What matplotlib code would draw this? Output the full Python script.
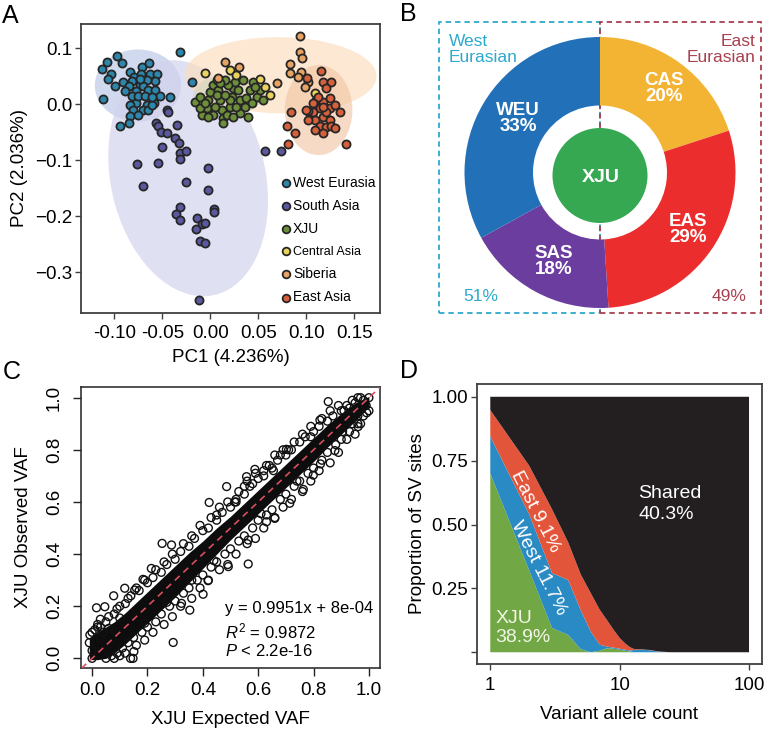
import matplotlib
matplotlib.use("Agg")
import matplotlib.pyplot as plt
from matplotlib.patches import Ellipse, Circle, Rectangle
import numpy as np

plt.rcParams['font.family'] = ['Liberation Sans', 'DejaVu Sans']
plt.rcParams['mathtext.fontset'] = 'custom'
plt.rcParams['mathtext.rm'] = 'Liberation Sans'
plt.rcParams['mathtext.it'] = 'Liberation Sans:italic'

W, H = 768, 731
fig = plt.figure(figsize=(W / 100, H / 100), dpi=100)

def axes_px(l, t, r, b):
    return fig.add_axes([l / W, 1 - b / H, (r - l) / W, (b - t) / H])

# ---------------- Panel A data (PC1, PC2) ----------------
west_eurasia = [(-0.097, 0.086), (-0.092, 0.073), (-0.108, 0.076), (-0.113, 0.0625), (-0.103, 0.055),
                (-0.107, 0.045), (-0.099, 0.032), (-0.112, 0.009), (-0.091, 0.039), (-0.084, 0.057),
                (-0.079, 0.049), (-0.071, 0.067), (-0.064, 0.073), (-0.072, 0.055), (-0.063, 0.055),
                (-0.055, 0.055), (-0.058, 0.041), (-0.066, 0.044), (-0.073, 0.035), (-0.082, 0.041),
                (-0.085, 0.032), (-0.077, 0.023), (-0.070, 0.032), (-0.065, 0.026), (-0.058, 0.026),
                (-0.052, 0.014), (-0.042, 0.0125), (-0.059, 0.002), (-0.066, -0.001), (-0.070, -0.010),
                (-0.077, 0.002), (-0.082, 0.014), (-0.084, -0.001), (-0.080, -0.010), (-0.084, -0.021),
                (-0.075, -0.019), (-0.065, -0.010), (-0.061, -0.001), (-0.085, -0.034), (-0.094, -0.039),
                (-0.031, 0.093), (-0.019, 0.0405), (-0.075, 0.014), (-0.068, 0.014), (-0.061, 0.0125),
                (-0.089, 0.023), (-0.073, 0.046)]
south_asia = [(-0.0455, -0.010), (-0.044, -0.013), (-0.057, -0.033), (-0.054, -0.039), (-0.051, -0.049),
              (-0.0455, -0.052), (-0.035, -0.037), (-0.037, -0.061), (-0.033, -0.0685), (-0.050, -0.0756),
              (-0.032, -0.0875), (-0.025, -0.083), (-0.032, -0.098), (-0.076, -0.107), (-0.054, -0.104),
              (-0.002, -0.114), (-0.0705, -0.146), (-0.025, -0.138), (-0.002, -0.153), (-0.032, -0.184),
              (-0.036, -0.196), (-0.032, -0.2065), (-0.014, -0.2036), (-0.009, -0.2137), (-0.0056, -0.2125),
              (-0.015, -0.2232), (0.004, -0.1875), (0.004, -0.1917), (-0.011, -0.2435), (-0.0056, -0.247),
              (-0.012, -0.350), (0.0576, -0.0827), (0.0743, -0.0827)]
xju = [(-0.016, 0.0048), (-0.0108, 0.0137), (-0.009, -0.019), (-0.0038, -0.0071), (-0.0021, 0.0077),
       (-0.0003, 0.0226), (0.0031, 0.0345), (0.0066, 0.0435), (0.0083, 0.0256), (0.0101, 0.0077),
       (0.0118, -0.0101), (0.0135, -0.025), (0.0135, -0.0339), (0.017, -0.019), (0.0205, -0.0042),
       (0.0222, 0.0137), (0.024, 0.0286), (0.0257, 0.0405), (0.0292, 0.0256), (0.0309, 0.0077),
       (0.0309, -0.0161), (0.0361, -0.0042), (0.0396, -0.022), (0.0378, 0.0107), (0.0413, 0.0256),
       (0.0448, 0.0405), (0.0483, 0.0137), (0.0517, 0.0256), (0.0431, 0.0018), (0.0274, -0.0042),
       (0.0188, 0.0345), (0.0153, 0.0435), (0.0049, -0.0042), (0.0031, -0.019), (-0.0021, -0.022),
       (-0.0108, -0.0071), (-0.0056, 0.0018), (0.0101, 0.0375), (0.024, -0.022), (0.0205, 0.0077),
       (0.0344, 0.0435), (0.0465, 0.0315), (0.0552, 0.0077), (0.0066, 0.0167), (0.0153, 0.0167)]
central_asia = [(-0.0056, 0.0554), (0.0205, 0.0613), (0.0274, 0.0524), (0.0517, 0.0446),
                (0.0569, 0.0304), (0.0622, 0.0167), (0.109, 0.0208)]
siberia = [(0.0153, 0.0762), (0.0302, 0.0673), (0.0698, 0.0375), (0.0083, 0.0464), (0.0934, 0.122),
           (0.0941, 0.094), (0.0962, 0.0821), (0.083, 0.0714), (0.083, 0.0554), (0.0951, 0.0583),
           (0.1021, 0.0405), (0.0986, 0.0315), (0.0917, 0.0494)]
east_asia = [(0.1177, 0.0405), (0.1264, 0.0405), (0.1212, 0.0286), (0.1108, 0.0077), (0.1177, 0.0048),
             (0.1247, 0.0107), (0.1142, -0.0071), (0.1073, -0.0131), (0.1021, -0.0113), (0.0847, -0.0131),
             (0.1247, -0.0071), (0.109, -0.028), (0.1177, -0.022), (0.1247, -0.028), (0.1351, -0.0131),
             (0.1142, -0.0387), (0.1212, -0.0399), (0.1264, -0.0387), (0.1021, -0.028), (0.1009, 0.0464),
             (0.1125, 0.0137), (0.1212, -0.0131), (0.1073, 0.0018), (0.142, -0.0708), (0.0813, -0.0708),
             (0.0882, -0.0518), (0.0802, -0.0387), (0.0997, -0.0101), (0.109, -0.0458), (0.1177, -0.0518),
             (0.1299, -0.0417), (0.116, 0.0595), (0.130, -0.002), (0.118, -0.005)]

pca_groups = ['West Eurasia', 'South Asia', 'XJU', 'Central Asia', 'Siberia', 'East Asia']
pca_points = [west_eurasia, south_asia, xju, central_asia, siberia, east_asia]
pca_colors = ['#2E86AB', '#5A589E', '#6E8F3A', '#E9D35E', '#E7A363', '#D5603B']

# ellipses
ell_cx = [-0.0753, -0.023, 0.0734, 0.0188, 0.113]
ell_cy = [0.0335, -0.132, 0.0518, 0.0167, -0.0102]
ell_w = [0.090, 0.163, 0.200, 0.073, 0.0705]
ell_h = [0.129, 0.423, 0.136, 0.0714, 0.161]
ell_ang = [0, 5, -2, 0, 0]
ell_col = ['#B9C6E6', '#D3D3EE', '#FBDDBC', '#D3D6B8', '#F4C7A6']
ell_alpha = [0.65, 0.7, 0.65, 0.6, 0.65]

# ---------------- Panel B data ----------------
donut_labels = ['CAS\n20%', 'EAS\n29%', 'SAS\n18%', 'WEU\n33%']
donut_values = [20, 29, 18, 33]
donut_colors = ['#F3B433', '#EC2D2D', '#6B3D9E', '#2271B8']

# ---------------- Panel C data ----------------
band_x = [-0.01, 0.02, 0.05, 0.08, 0.12, 0.16, 0.2, 0.25, 0.3, 0.35, 0.4, 0.45, 0.5, 0.55, 0.6, 0.65,
          0.7, 0.75, 0.8, 0.85, 0.9, 0.95, 1.0]
band_lo = [-0.005, -0.005, 0.0, 0.02, 0.055, 0.095, 0.135, 0.185, 0.235, 0.29, 0.345, 0.4, 0.455, 0.505,
           0.555, 0.605, 0.655, 0.705, 0.755, 0.81, 0.86, 0.91, 0.965]
band_hi = [0.08, 0.1, 0.12, 0.14, 0.175, 0.215, 0.255, 0.305, 0.355, 0.405, 0.45, 0.5, 0.545, 0.595,
           0.645, 0.695, 0.745, 0.795, 0.845, 0.895, 0.94, 0.98, 1.005]
vaf_expected = [0.992, 0.853, 0.961, 0.823, 0.877, 0.825, 0.799, 0.702, 0.588, 0.558, 0.486, 0.423,
                0.714, 0.763, 0.66, 0.63, 0.564, 0.564, 0.492, 0.419, 0.253, 0.287, 0.214, 0.184,
                0.154, 0.118, 0.078, 0.016, 0.046, 0.353, 0.323, 0.401, 0.293, 0.148, 0.139, 0.151,
                -0.008,
                0.02, 0.05, 0.08, 0.1, 0.12, 0.14, 0.17, 0.2, 0.22, 0.25, 0.27, 0.3, 0.32, 0.35, 0.37,
                0.4, 0.42, 0.45, 0.47, 0.5, 0.52, 0.55, 0.57, 0.6, 0.62, 0.65, 0.67, 0.7, 0.72, 0.75,
                0.77, 0.8, 0.82, 0.85, 0.87, 0.9, 0.92, 0.94,
                0.05, 0.07, 0.09, 0.11, 0.13, 0.15, 0.18, 0.2, 0.23, 0.25, 0.28, 0.3, 0.33, 0.35, 0.38,
                0.4, 0.43, 0.45, 0.48, 0.5, 0.53, 0.55, 0.58, 0.6, 0.63, 0.65, 0.68, 0.7, 0.73, 0.75,
                0.78, 0.8, 0.83, 0.85, 0.88, 0.9, 0.93, 0.96, 0.98,
                0.515, 0.61, 0.655, 0.74, 0.79, 0.905, 0.94, 0.36, 0.44, 0.27, 0.19, 0.06, 0.03, 0.1,
                0.03, 0.06, 0.09, 0.13, 0.16, 0.19, 0.23, 0.26, 0.29, 0.33, 0.36, 0.39, 0.43, 0.46,
                0.49, 0.53, 0.56, 0.59, 0.63, 0.66, 0.69, 0.73, 0.76, 0.79, 0.83, 0.86, 0.89, 0.96,
                0.98, 1.0,
                0.08, 0.1, 0.12, 0.16, 0.19, 0.22, 0.26, 0.29, 0.32, 0.36, 0.39, 0.42, 0.46, 0.49,
                0.52, 0.56, 0.59, 0.62, 0.66, 0.69, 0.72, 0.76, 0.79, 0.82, 0.86, 0.89, 0.92, 0.95,
                0.97, 1.0,
                0.0, 0.01, 0.0, -0.01, 0.03, 0.0, 0.02, 0.04, 0.97, 0.99, 0.95, 0.93, 0.91, 0.96,
                0.45, 0.55, 0.62, 0.68, 0.58, 0.52, 0.71, 0.64]
vaf_observed = [0.942, 0.985, 0.889, 0.914, 0.797, 0.746, 0.703, 0.802, 0.725, 0.697, 0.659, 0.598,
                0.595, 0.648, 0.537, 0.524, 0.454, 0.362, 0.352, 0.298, 0.441, 0.435, 0.345, 0.303,
                0.262, 0.269, 0.240, 0.194, 0.198, 0.185, 0.211, 0.246, 0.061, 0.0, 0.0, 0.026,
                0.09,
                0.12, 0.14, 0.17, 0.2, 0.21, 0.24, 0.26, 0.29, 0.31, 0.33, 0.36, 0.38, 0.41, 0.43, 0.46,
                0.49, 0.5, 0.53, 0.56, 0.58, 0.61, 0.63, 0.66, 0.69, 0.7, 0.73, 0.76, 0.78, 0.8, 0.83,
                0.85, 0.87, 0.89, 0.91, 0.93, 0.95, 0.97, 0.99,
                0.0, 0.01, 0.02, 0.04, 0.06, 0.08, 0.1, 0.12, 0.14, 0.17, 0.2, 0.22, 0.25, 0.27, 0.3,
                0.32, 0.35, 0.37, 0.4, 0.42, 0.45, 0.47, 0.5, 0.53, 0.55, 0.57, 0.61, 0.63, 0.66, 0.68,
                0.71, 0.73, 0.76, 0.79, 0.82, 0.84, 0.87, 0.9, 0.93,
                0.6, 0.555, 0.72, 0.68, 0.85, 0.87, 0.9, 0.3, 0.375, 0.215, 0.135, 0.115, 0.075, 0.155,
                0.15, 0.16, 0.19, 0.23, 0.27, 0.3, 0.34, 0.37, 0.4, 0.44, 0.47, 0.51, 0.54, 0.58,
                0.6, 0.64, 0.68, 0.71, 0.74, 0.78, 0.8, 0.83, 0.86, 0.89, 0.92, 0.95, 0.97, 1.0,
                0.99, 1.0,
                -0.0, 0.01, 0.02, 0.05, 0.07, 0.1, 0.13, 0.16, 0.2, 0.23, 0.27, 0.3, 0.34, 0.36,
                0.4, 0.44, 0.46, 0.5, 0.54, 0.58, 0.61, 0.64, 0.68, 0.72, 0.75, 0.79, 0.84, 0.86,
                0.9, 0.95,
                0.0, 0.11, 0.1, 0.06, 0.12, 0.03, 0.13, 0.1, 1.0, 0.97, 0.98, 0.96, 0.95, 0.93,
                0.55, 0.66, 0.72, 0.78, 0.67, 0.6, 0.8, 0.74]

# ---------------- Panel D data ----------------
allele_count = [1, 2, 3, 4, 5, 6, 7, 8, 9, 10, 11, 12, 13, 15, 17, 20, 25, 100]
prop_xju = [0.70, 0.32, 0.095, 0.068, 0.012, 0.0, 0.006, 0.016, 0.014, 0.010, 0.006, 0.003, 0.0, 0.0, 0.0, 0.0, 0.0, 0.0]
prop_west = [0.145, 0.22, 0.215, 0.215, 0.153, 0.08, 0.024, 0.006, 0.004, 0.004, 0.004, 0.004, 0.009, 0.010, 0.008, 0.002, 0.0, 0.0]
prop_east = [0.103, 0.19, 0.25, 0.147, 0.14, 0.15, 0.137, 0.103, 0.069, 0.042, 0.025, 0.013, 0.003, 0.001, 0.001, 0.001, 0.0, 0.0]
prop_shared = [0.052, 0.27, 0.44, 0.57, 0.695, 0.77, 0.833, 0.875, 0.913, 0.944, 0.965, 0.98, 0.988, 0.989, 0.991, 0.997, 1.0, 1.0]
d_colors = ['#71A744', '#2A8AC4', '#E3553A', '#231F20']

FS = 13.5
frame_col = '#404040'

# ================= Panel A =================
axA = axes_px(81, 24, 380, 313)
for cx, cy, w, h, a, c, al in zip(ell_cx, ell_cy, ell_w, ell_h, ell_ang, ell_col, ell_alpha):
    axA.add_patch(Ellipse((cx, cy), w, h, angle=a, facecolor=c, edgecolor='none', alpha=al, zorder=1))
for name, pts, col in zip(pca_groups, pca_points, pca_colors):
    xs = [p[0] for p in pts]
    ys = [p[1] for p in pts]
    axA.scatter(xs, ys, s=34, c=col, edgecolors='#262626', linewidths=1.3, zorder=3, label=name)
axA.set_xlim(-0.1347, 0.177)
axA.set_ylim(-0.3727, 0.1434)
axA.set_xticks([-0.10, -0.05, 0.0, 0.05, 0.10, 0.15])
axA.set_xticklabels(['-0.10', '-0.05', '0.00', '0.05', '0.10', '0.15'])
axA.set_yticks([0.1, 0.0, -0.1, -0.2, -0.3])
axA.set_yticklabels(['0.1', '0.0', '\u22120.1', '\u22120.2', '\u22120.3'])
axA.tick_params(labelsize=FS, length=4, width=1, color=frame_col, pad=2)
axA.tick_params(axis='x', pad=5)
for s in axA.spines.values():
    s.set_color(frame_col)
    s.set_linewidth(1.3)
axA.set_xlabel('PC1 (4.236%)', fontsize=FS, labelpad=5)
axA.set_ylabel('PC2 (2.036%)', fontsize=FS, labelpad=5)
leg = axA.legend(loc='upper left', bbox_to_anchor=(0.672, 0.475), frameon=False, fontsize=10,
                 handlelength=0.6, handletextpad=0.2, labelspacing=0.66, borderpad=0,
                 borderaxespad=0, scatterpoints=1, markerscale=0.95)
for t in leg.get_texts():
    if t.get_text() == 'Central Asia':
        t.set_fontsize(9)

# ================= Panel B =================
cxB, cyB = 600, 172.5
axB = axes_px(430, 10, 770, 320)
axB.axis('off')
box_top, box_bot, box_half = 150.5, -140.5, 161
axB.add_patch(Rectangle((-box_half, box_bot), box_half, box_top - box_bot, fill=False,
                        edgecolor='#2EA9CC', linestyle=(0, (3, 2.2)), linewidth=1.3, zorder=1))
axB.add_patch(Rectangle((0, box_bot), box_half, box_top - box_bot, fill=False,
                        edgecolor='#A8404F', linestyle=(0, (3, 2.2)), linewidth=1.3, zorder=1))
wedges, _ = axB.pie(donut_values, colors=donut_colors, startangle=90, counterclock=False,
                    radius=135.5, center=(0, 0), wedgeprops=dict(width=68.5, edgecolor='none'))
for w in wedges:
    w.set_zorder(2)
axB.set_aspect('auto')
axB.set_xlim(430 - cxB, 770 - cxB)
axB.set_ylim(cyB - 320, cyB - 10)
axB.add_patch(Circle((0, -3), 47.5, facecolor='#36A852', edgecolor='none', zorder=3))
lab_pos = [(64, 84), (88, -57), (-46, -89), (-82, 54)]
for lab, (lx, ly) in zip(donut_labels, lab_pos):
    axB.text(lx, ly, lab, ha='center', va='center', color='white', fontsize=13.5,
             fontweight='bold', linespacing=0.95, zorder=4)
axB.text(1, -5, 'XJU', ha='center', va='center', color='white', fontsize=14, fontweight='bold', zorder=4)
axB.text(-151.5, 123, 'West\nEurasian', ha='left', va='center', color='#2EA9CC', fontsize=12.5,
         linespacing=1.0)
axB.text(155, 123, 'East\nEurasian', ha='right', va='center', color='#A8404F', fontsize=12.5,
         linespacing=1.0)
axB.text(-137, -124, '51%', ha='left', va='center', color='#2EA9CC', fontsize=12.5)
axB.text(146.5, -124, '49%', ha='right', va='center', color='#A8404F', fontsize=12.5)

# ================= Panel C =================
axC = axes_px(81, 387, 380, 668)
axC.fill_between(band_x, band_lo, band_hi, color='#0d0d0d', linewidth=0, zorder=2)
axC.scatter(vaf_expected, vaf_observed, s=32, facecolors='none', edgecolors='#111111',
            linewidths=1.0, zorder=3)
axC.plot([-0.1, 1.1], [-0.1, 1.1], color='#D8505E', linestyle=(0, (4, 3)), linewidth=1.2, zorder=4)
axC.set_xlim(-0.04, 1.04)
axC.set_ylim(-0.037, 1.041)
ticksC = [0.0, 0.2, 0.4, 0.6, 0.8, 1.0]
axC.set_xticks(ticksC)
axC.set_xticklabels(['0.0', '0.2', '0.4', '0.6', '0.8', '1.0'])
axC.set_yticks(ticksC)
axC.set_yticklabels(['0.0', '0.2', '0.4', '0.6', '0.8', '1.0'], rotation=90, va='center')
axC.tick_params(labelsize=FS, length=6, width=1, color='#222222', pad=4)
axC.tick_params(axis='y', pad=7)
for s in axC.spines.values():
    s.set_color('#222222')
    s.set_linewidth(1.1)
axC.set_xlabel('XJU Expected VAF', fontsize=FS, labelpad=9)
axC.set_ylabel('XJU Observed VAF', fontsize=FS, labelpad=10)
axC.text(0.48, 0.192, 'y = 0.9951x + 8e-04', fontsize=12, va='center', ha='left')
axC.text(0.48, 0.104, r'$\mathit{R}^{2}$ = 0.9872', fontsize=12, va='center', ha='left')
axC.text(0.48, 0.028, r'$\mathit{P}$ < 2.2e-16', fontsize=12, va='center', ha='left')

# ================= Panel D =================
axD = axes_px(476.7, 384, 761.7, 664)
axD.stackplot(allele_count, prop_xju, prop_west, prop_east, prop_shared, colors=d_colors,
              linewidth=0)
axD.set_xscale('log')
axD.set_xlim(10 ** -0.105, 10 ** 2.098)
axD.set_ylim(-0.046, 1.05)
axD.set_xticks([1, 10, 100])
axD.set_xticklabels(['1', '10', '100'])
axD.minorticks_off()
axD.set_yticks([0, 0.25, 0.5, 0.75, 1.0])
axD.set_yticklabels(['', '0.25', '0.50', '0.75', '1.00'])
axD.tick_params(labelsize=FS, length=4, width=1, color=frame_col, pad=2)
axD.tick_params(axis='x', pad=5)
for s in axD.spines.values():
    s.set_color(frame_col)
    s.set_linewidth(1.3)
axD.set_xlabel('Variant allele count', fontsize=FS, labelpad=9)
axD.set_ylabel('Proportion of SV sites', fontsize=FS, labelpad=4)
axD.text(13.9, 0.58, 'Shared\n40.3%', color='white', fontsize=14, ha='left', va='center', linespacing=1.25)
axD.text(1.09, 0.095, 'XJU\n38.9%', color='#F2F6E6', fontsize=14, ha='left', va='center', linespacing=1.2)
axD.text(2.22, 0.55, 'East 9.1%', color='white', fontsize=14, ha='center', va='center', rotation=-63)
axD.text(2.36, 0.33, 'West 11.7%', color='white', fontsize=14, ha='center', va='center', rotation=-63)

# ---------------- panel letters ----------------
for letter, x, y in [('A', 2, 16), ('B', 400, 14), ('C', 3, 372), ('D', 400, 371)]:
    fig.text(x / W, 1 - y / H, letter, fontsize=18, ha='left', va='center')

fig.savefig('out.png', dpi=100)
